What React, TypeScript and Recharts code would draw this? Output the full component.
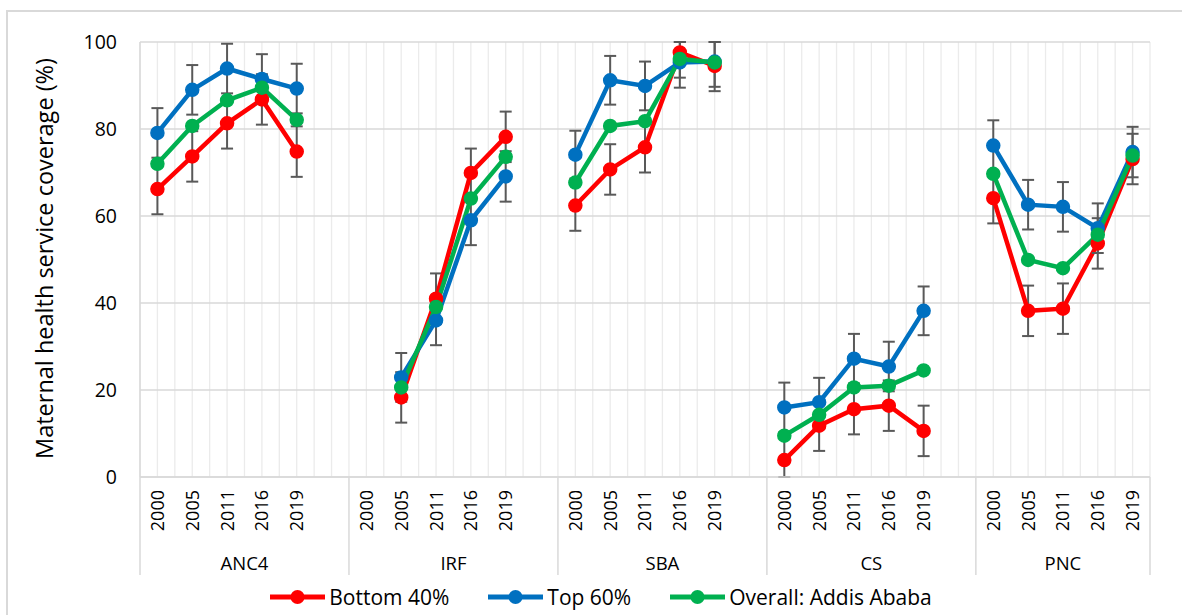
import React from 'react';
import { LineChart, Line, XAxis, YAxis, CartesianGrid, ErrorBar, Legend, Label } from 'recharts';

// ---- data ----
const groups = ['ANC4', 'IRF', 'SBA', 'CS', 'PNC'];
const years = ['2000', '2005', '2011', '2016', '2019'];

// values in order ANC4(5), IRF(5), SBA(5), CS(5), PNC(5)
const bottom40 = [
  66.2, 73.7, 81.3, 86.8, 74.8,
  null, 18.3, 41.0, 69.9, 78.2,
  62.4, 70.7, 75.8, 97.6, 94.5,
  3.9, 11.8, 15.6, 16.4, 10.6,
  64.1, 38.2, 38.7, 53.7, 73.1,
];
const top60 = [
  79.1, 89.0, 93.9, 91.5, 89.3,
  null, 22.9, 36.0, 59.0, 69.1,
  74.1, 91.2, 89.9, 95.3, 95.5,
  16.0, 17.2, 27.2, 25.4, 38.2,
  76.2, 62.6, 62.1, 57.2, 74.7,
];
const overall = [
  72.0, 80.7, 86.6, 89.5, 82.1,
  null, 20.6, 39.1, 64.0, 73.6,
  67.7, 80.7, 81.8, 96.1, 95.3,
  9.5, 14.3, 20.6, 21.0, 24.5,
  69.7, 49.9, 48.0, 55.7, 73.9,
];
const bottom40Err = [
  5.8, 5.8, 5.8, 5.8, 5.8,
  null, 5.8, 5.8, 5.6, 5.8,
  5.8, 5.8, 5.8, 5.8, 5.8,
  5.8, 5.8, 5.8, 5.8, 5.8,
  5.8, 5.8, 5.8, 5.8, 5.8,
];
const top60Err = [
  5.7, 5.7, 5.7, 5.7, 5.7,
  null, 5.6, 5.7, 5.7, 5.8,
  5.5, 5.6, 5.6, 5.8, 5.8,
  5.7, 5.6, 5.7, 5.7, 5.6,
  5.8, 5.7, 5.7, 5.7, 5.8,
];

const seriesNames = ['Bottom 40%', 'Top 60%', 'Overall: Addis Ababa'];
const seriesColors = ['#FF0000', '#0070C0', '#00B050'];
const yTicks = [0, 20, 40, 60, 80, 100];

// ---- table built from the arrays ----
const slotsPerGroup = years.length + 1;
type Row = { x: number; year?: string; group?: string; bottom: number | null; top: number | null; overall: number | null; bottomErr?: number | null; topErr?: number | null };
const data: Row[] = [];
groups.forEach((g, gi) => {
  years.forEach((yr, yi) => {
    const k = gi * years.length + yi;
    data.push({
      x: gi * slotsPerGroup + yi,
      year: yr,
      group: g,
      bottom: bottom40[k],
      top: top60[k],
      overall: overall[k],
      bottomErr: bottom40[k] == null ? null : bottom40Err[k],
      topErr: top60[k] == null ? null : top60Err[k],
    });
  });
  if (gi < groups.length - 1) {
    data.push({ x: gi * slotsPerGroup + years.length, bottom: null, top: null, overall: null });
  }
});

const yMin = yTicks[0];
const yMax = yTicks[yTicks.length - 1];
// error bars are cut at the axis range, as in the original chart
const clippedErr = (valKey: 'bottom' | 'top', errKey: 'bottomErr' | 'topErr') => (d: any) => {
  const v = d[valKey];
  const e = d[errKey];
  if (v == null || e == null) return null;
  return [Math.min(e, v - yMin), Math.min(e, yMax - v)];
};

const xMin = -0.5;
const xMax = (groups.length - 1) * slotsPerGroup + years.length - 0.5;
const xTicks: number[] = [];
for (let v = xMin; v <= xMax + 1e-9; v += 0.5) xTicks.push(v);

const groupSpans = groups.map((g, gi) => {
  const start = gi * slotsPerGroup - 0.5;
  const end = gi < groups.length - 1 ? start + slotsPerGroup : xMax;
  return { name: g, start, end, center: (start + end) / 2 };
});
const boundaries = [...groupSpans.map((s) => s.start), xMax];

const FONT = '"Open Sans", "Noto Sans", sans-serif';
const CHART_W = 1182;
const CHART_H = 615;
const M_TOP = 42;
const X_AXIS_H = 98;
const LEGEND_H = 40;
const PLOT_CENTER_Y = (M_TOP + (CHART_H - X_AXIS_H - LEGEND_H)) / 2;

const XTick = (props: any) => {
  const { x, y, payload } = props;
  const v = payload.value;
  const row = data.find((d) => d.x === v && d.year);
  const isBoundary = boundaries.some((b) => Math.abs(b - v) < 1e-9);
  const grp = groupSpans.find((s) => Math.abs(s.center - v) < 1e-9);
  const ty = y + 13;
  return (
    <g>
      {isBoundary && <line x1={x} y1={y} x2={x} y2={y + X_AXIS_H} stroke="#d9d9d9" strokeWidth={1.5} />}
      {row && (
        <text x={x} y={ty} transform={`rotate(-90, ${x}, ${ty})`} textAnchor="end" dy="0.36em" fontSize={18} fill="#000" fontFamily={FONT}>
          {row.year}
        </text>
      )}
      {grp && (
        <text x={x} y={y + 86} textAnchor="middle" dy="0.36em" fontSize={18.5} fill="#000" fontFamily={FONT}>
          {grp.name}
        </text>
      )}
    </g>
  );
};

const renderLegend = (props: any) => {
  const payload = [...(props.payload || [])].sort(
    (a: any, b: any) => seriesNames.indexOf(a.value) - seriesNames.indexOf(b.value)
  );
  return (
    <div style={{ display: 'flex', justifyContent: 'center', alignItems: 'center', height: LEGEND_H, paddingTop: 4, paddingLeft: 52, boxSizing: 'border-box', fontFamily: FONT, fontSize: 21, color: '#000' }}>
      {payload.map((p: any, i: number) => (
        <div key={i} style={{ display: 'flex', alignItems: 'center', marginRight: i < payload.length - 1 ? 39 : 0 }}>
          <svg width={55} height={16} style={{ marginRight: 4 }}>
            <line x1={0} y1={8} x2={55} y2={8} stroke={p.color} strokeWidth={5} />
            <circle cx={27.5} cy={8} r={7} fill={p.color} />
          </svg>
          <span>{p.value}</span>
        </div>
      ))}
    </div>
  );
};

const dotStyle = (c: string) => ({ r: 6.5, fill: c, stroke: c, strokeWidth: 1.5 });

export default function App() {
  return (
    <div style={{ position: 'absolute', left: 0, top: 0, width: CHART_W, height: CHART_H, overflow: 'hidden', background: '#fff' }}>
      <div style={{ position: 'absolute', left: 6, top: 10, width: 1176, height: 605, borderLeft: '2px solid #d9d9d9', borderTop: '2px solid #d9d9d9', boxSizing: 'border-box' }} />
      <div style={{ position: 'absolute', left: 0, top: 0 }}>
        <LineChart width={CHART_W} height={CHART_H} data={data} margin={{ top: M_TOP, right: 32, left: 0, bottom: 0 }}>
          <CartesianGrid horizontal={false} stroke="#ebebeb" strokeWidth={1.3} />
          <CartesianGrid vertical={false} stroke="#d9d9d9" strokeWidth={1.5} />
          <XAxis
            type="number"
            dataKey="x"
            domain={[xMin, xMax]}
            ticks={xTicks}
            interval={0}
            tick={<XTick />}
            tickLine={false}
            tickSize={0}
            tickMargin={0}
            height={X_AXIS_H}
            axisLine={{ stroke: '#d9d9d9', strokeWidth: 1.5 }}
            allowDecimals
          />
          <YAxis
            type="number"
            domain={[yMin, yMax]}
            ticks={yTicks}
            allowDataOverflow
            width={140}
            tickLine={false}
            tickSize={0}
            tickMargin={23}
            axisLine={{ stroke: '#d9d9d9', strokeWidth: 1.5 }}
            tick={{ fill: '#000', fontSize: 19.5, fontFamily: FONT }}
          >
            <Label
              content={() => {
                const cx = 45;
                const cy = PLOT_CENTER_Y - 1;
                return (
                  <text x={cx} y={cy} transform={`rotate(-90, ${cx}, ${cy})`} textAnchor="middle" dy="0.36em" fontSize={23.5} fill="#000" fontFamily={FONT}>
                    Maternal health service coverage (%)
                  </text>
                );
              }}
            />
          </YAxis>
          <Legend verticalAlign="bottom" height={LEGEND_H} content={renderLegend} />
          <Line type="linear" dataKey="bottom" name={seriesNames[0]} stroke={seriesColors[0]} strokeWidth={4.5} dot={dotStyle(seriesColors[0])} activeDot={false} isAnimationActive={false}>
            <ErrorBar dataKey={clippedErr('bottom', 'bottomErr')} direction="y" width={6} stroke="#595959" strokeWidth={2} />
          </Line>
          <Line type="linear" dataKey="top" name={seriesNames[1]} stroke={seriesColors[1]} strokeWidth={4.5} dot={dotStyle(seriesColors[1])} activeDot={false} isAnimationActive={false}>
            <ErrorBar dataKey={clippedErr('top', 'topErr')} direction="y" width={6} stroke="#595959" strokeWidth={2} />
          </Line>
          <Line type="linear" dataKey="overall" name={seriesNames[2]} stroke={seriesColors[2]} strokeWidth={4.5} dot={dotStyle(seriesColors[2])} activeDot={false} isAnimationActive={false} />
        </LineChart>
      </div>
    </div>
  );
}
